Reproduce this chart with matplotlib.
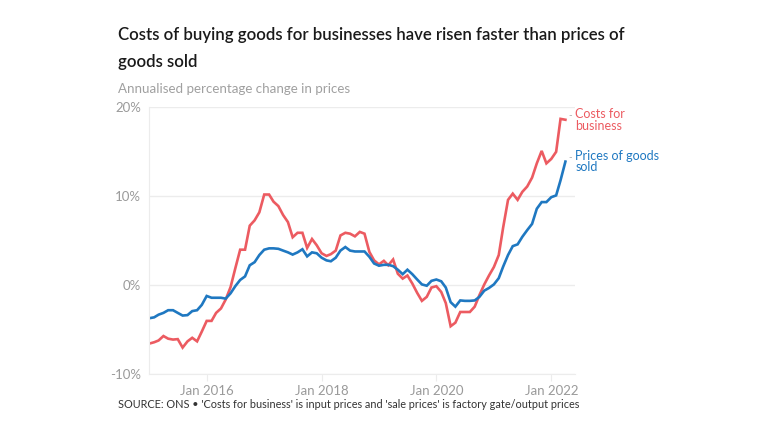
import matplotlib
matplotlib.use("Agg")
import matplotlib.pyplot as plt
import pandas as pd

plt.rcParams['font.family'] = ['Lato', 'DejaVu Sans']

months = pd.date_range('2015-01-01', periods=88, freq='MS')

costs_for_business = [
    -6.55, -6.4, -6.2, -5.7, -6.0, -6.1, -6.05, -7.0, -6.3, -5.9, -6.3, -5.2,
    -4.0, -4.0, -3.1, -2.6, -1.6, -0.2, 1.9, 4.0, 4.0, 6.7, 7.3, 8.2,
    10.2, 10.2, 9.4, 8.9, 7.9, 7.1, 5.4, 5.9, 5.9, 4.2, 5.2, 4.5,
    3.6, 3.3, 3.5, 3.9, 5.6, 5.9, 5.8, 5.5, 6.0, 5.8, 3.75, 2.8,
    2.35, 2.75, 2.25, 2.9, 1.3, 0.75, 1.1, 0.2, -0.85, -1.75, -1.3, -0.25,
    -0.1, -0.75, -2.0, -4.6, -4.2, -3.0, -3.0, -3.0, -2.4, -1.1, 0.1, 1.1,
    2.05, 3.4, 6.5, 9.6, 10.3, 9.6, 10.5, 11.1, 12.1, 13.7, 15.1, 13.7,
    14.2, 15.0, 18.7, 18.6,
]

prices_of_goods_sold = [
    -3.7, -3.6, -3.3, -3.1, -2.8, -2.8, -3.1, -3.4, -3.35, -2.9, -2.8, -2.2,
    -1.2, -1.4, -1.4, -1.4, -1.5, -0.9, -0.1, 0.6, 1.0, 2.25, 2.6, 3.4,
    4.0, 4.15, 4.15, 4.1, 3.9, 3.7, 3.45, 3.7, 4.05, 3.25, 3.7, 3.6,
    3.1, 2.8, 2.7, 3.1, 3.9, 4.3, 3.9, 3.8, 3.8, 3.8, 3.2, 2.45,
    2.2, 2.3, 2.3, 2.15, 1.75, 1.25, 1.75, 1.25, 0.65, 0.1, -0.05, 0.5,
    0.65, 0.45, -0.25, -1.9, -2.4, -1.7, -1.75, -1.75, -1.7, -1.3, -0.6, -0.3,
    0.1, 0.8, 2.1, 3.4, 4.4, 4.6, 5.45, 6.2, 6.9, 8.6, 9.35, 9.35,
    9.9, 10.1, 11.8, 13.9,
]

series_labels = ["Costs for\nbusiness", "Prices of goods\nsold"]
y_ticks = [-10, 0, 10, 20]
y_tick_labels = ["-10%", "0%", "10%", "20%"]
x_ticks = ['2016-01-01', '2018-01-01', '2020-01-01', '2022-01-01']
x_tick_labels = ["Jan 2016", "Jan 2018", "Jan 2020", "Jan 2022"]

RED = "#ec5b61"
BLUE = "#1f78c1"
GRID = "#ececec"
TICK = "#9a9a9a"

fig = plt.figure(figsize=(7.68, 4.32), dpi=100)
ax = fig.add_axes([0.1944, 0.1336, 0.7487 - 0.1944, 0.7516 - 0.1336])

ax.plot(months, costs_for_business, color=RED, lw=1.9, solid_joinstyle='miter')
ax.plot(months, prices_of_goods_sold, color=BLUE, lw=1.9, solid_joinstyle='miter')

ax.set_ylim(-10, 20)
ax.set_xlim(pd.Timestamp('2015-01-01'), pd.Timestamp('2022-06-01'))
ax.set_yticks(y_ticks)
ax.set_yticklabels(y_tick_labels)
ax.set_xticks(pd.to_datetime(x_ticks))
ax.set_xticklabels(x_tick_labels)

ax.grid(axis='y', color=GRID, lw=1)
ax.set_axisbelow(True)
for s in ['top', 'right']:
    ax.spines[s].set_visible(False)
ax.spines['left'].set_color(GRID)
ax.spines['bottom'].set_color(GRID)
ax.tick_params(axis='y', length=0, pad=6, labelsize=9.5, labelcolor=TICK)
ax.tick_params(axis='x', length=5, color=GRID, pad=3, labelsize=9.5, labelcolor=TICK)

# end labels
for vals, lab, col in [(costs_for_business, series_labels[0], RED),
                       (prices_of_goods_sold, series_labels[1], BLUE)]:
    ax.annotate(lab, xy=(months[-1], vals[-1]), xycoords='data',
                xytext=(7, 0), textcoords='offset points',
                color=col, fontsize=9, va='center', ha='left',
                annotation_clip=False, linespacing=0.95)
    ax.annotate("-", xy=(months[-1], vals[-1]), xycoords='data',
                xytext=(2.5, 3), textcoords='offset points', color="#aaaaaa",
                fontsize=7, va='center', ha='left', annotation_clip=False)

fig.text(118/768, 1 - 35/432, "Costs of buying goods for businesses have risen faster than prices of",
         fontsize=12.1, fontweight='semibold', color="#1a1a1a", va='center', ha='left')
fig.text(118/768, 1 - 62/432, "goods sold",
         fontsize=12.1, fontweight='semibold', color="#1a1a1a", va='center', ha='left')
fig.text(118/768, 1 - 89/432, "Annualised percentage change in prices",
         fontsize=9.6, color="#a0a0a0", va='center', ha='left')
fig.text(118/768, 1 - 404/432,
         "SOURCE: ONS \u2022 'Costs for business' is input prices and 'sale prices' is factory gate/output prices",
         fontsize=7.8, color="#333333", va='center', ha='left')

fig.savefig("out.png", dpi=100)
